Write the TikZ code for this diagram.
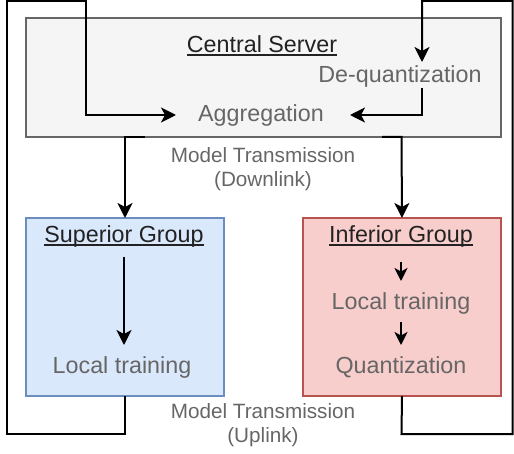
\documentclass[tikz,border=0pt]{standalone}
\usepackage{fontspec}
\setmainfont{Liberation Sans}
\usetikzlibrary{arrows.meta}
\definecolor{txtgray}{HTML}{666666}
\definecolor{titlec}{HTML}{222222}
\definecolor{csfill}{HTML}{F5F5F5}
\definecolor{csdraw}{HTML}{666666}
\definecolor{supfill}{HTML}{DAE8FC}
\definecolor{supdraw}{HTML}{6C8EBF}
\definecolor{inffill}{HTML}{F8CECC}
\definecolor{infdraw}{HTML}{B85450}
\newcommand\myul[1]{\setbox0\hbox{#1}\rlap{\rule[-3.2pt]{\wd0}{2.2pt}}\box0}
\tikzset{
  panel/.style={draw, line width=1.5pt, anchor=north west, inner sep=0pt, outer sep=0pt},
  txt/.style={text=txtgray, anchor=base, inner sep=0pt, font=\fontsize{23.3}{28}\selectfont},
  ttl/.style={text=titlec, anchor=base, inner sep=0pt, font=\fontsize{23.3}{28}\selectfont},
  lbl/.style={text=txtgray, anchor=base, inner sep=0pt, font=\fontsize{20.7}{24}\selectfont},
  conn/.style={draw=black, line width=2pt},
  arr/.style={conn, -{Stealth[length=15pt,width=15pt,inset=4pt]}},
  sarr/.style={conn, -{Stealth[length=13pt,width=13pt,inset=3.5pt]}},
}
\begin{document}
\begin{tikzpicture}[x=1pt,y=-1pt]
\useasboundingbox (0,0) rectangle (514,454);
% panels
\node[panel, fill=csfill, draw=csdraw, minimum width=475pt, minimum height=119pt] (cs) at (26,18) {};
\node[panel, fill=supfill, draw=supdraw, minimum width=198pt, minimum height=178pt] (sup) at (26,218) {};
\node[panel, fill=inffill, draw=infdraw, minimum width=198pt, minimum height=178pt] (inf) at (303,218) {};
% texts
\node[ttl] (cstitle) at (262,53) {\myul{Central Server}};
\node[txt] (deq) at (400,83) {De-quantization};
\node[txt] (agg) at (261,122) {Aggregation};
\node[ttl] (suptitle) at (124,243) {\myul{Superior Group}};
\node[txt] (suptrain) at (122,373) {Local training};
\node[ttl] (inftitle) at (401,243) {\myul{Inferior Group}};
\node[txt] (inftrain) at (401,310) {Local training};
\node[txt] (quant) at (401,373) {Quantization};
\node[lbl] (dla) at (263,163) {Model Transmission};
\node[lbl] (dlb) at (263,187) {(Downlink)};
\node[lbl] (ula) at (263,418) {Model Transmission};
\node[lbl] (ulb) at (263,442) {(Uplink)};
% connector ends
\coordinate (aggin1) at (176,115);
\coordinate (aggin2) at (350,115);
\coordinate (deqin) at (422,62);
\coordinate (deqout) at (422,88);
\coordinate (dls1) at (145,137);
\coordinate (dls2) at (382,137);
\coordinate (supa) at (124,257);
\coordinate (supb) at (124,345);
\coordinate (infa) at (401,262);
\coordinate (infb) at (401,281);
\coordinate (infc) at (401,322);
\coordinate (infd) at (401,345);
% connectors
\draw[arr] (sup.south) -- (125,434) -- (7,434) -- (7,1) -- (86,1) -- (86,115) -- (aggin1);
\draw[arr] (inf.south) -- (401.5,434) -- (512.5,434) -- (512.5,1) -- (422,1) -- (deqin);
\draw[arr] (deqout) -- (422,115) -- (aggin2);
\draw[arr] (dls1) -- (125,137) -- (sup.north);
\draw[arr] (dls2) -- (401.5,137) -- (inf.north);
\draw[arr] (supa) -- (supb);
\draw[sarr] (infa) -- (infb);
\draw[sarr] (infc) -- (infd);
\end{tikzpicture}
\end{document}
